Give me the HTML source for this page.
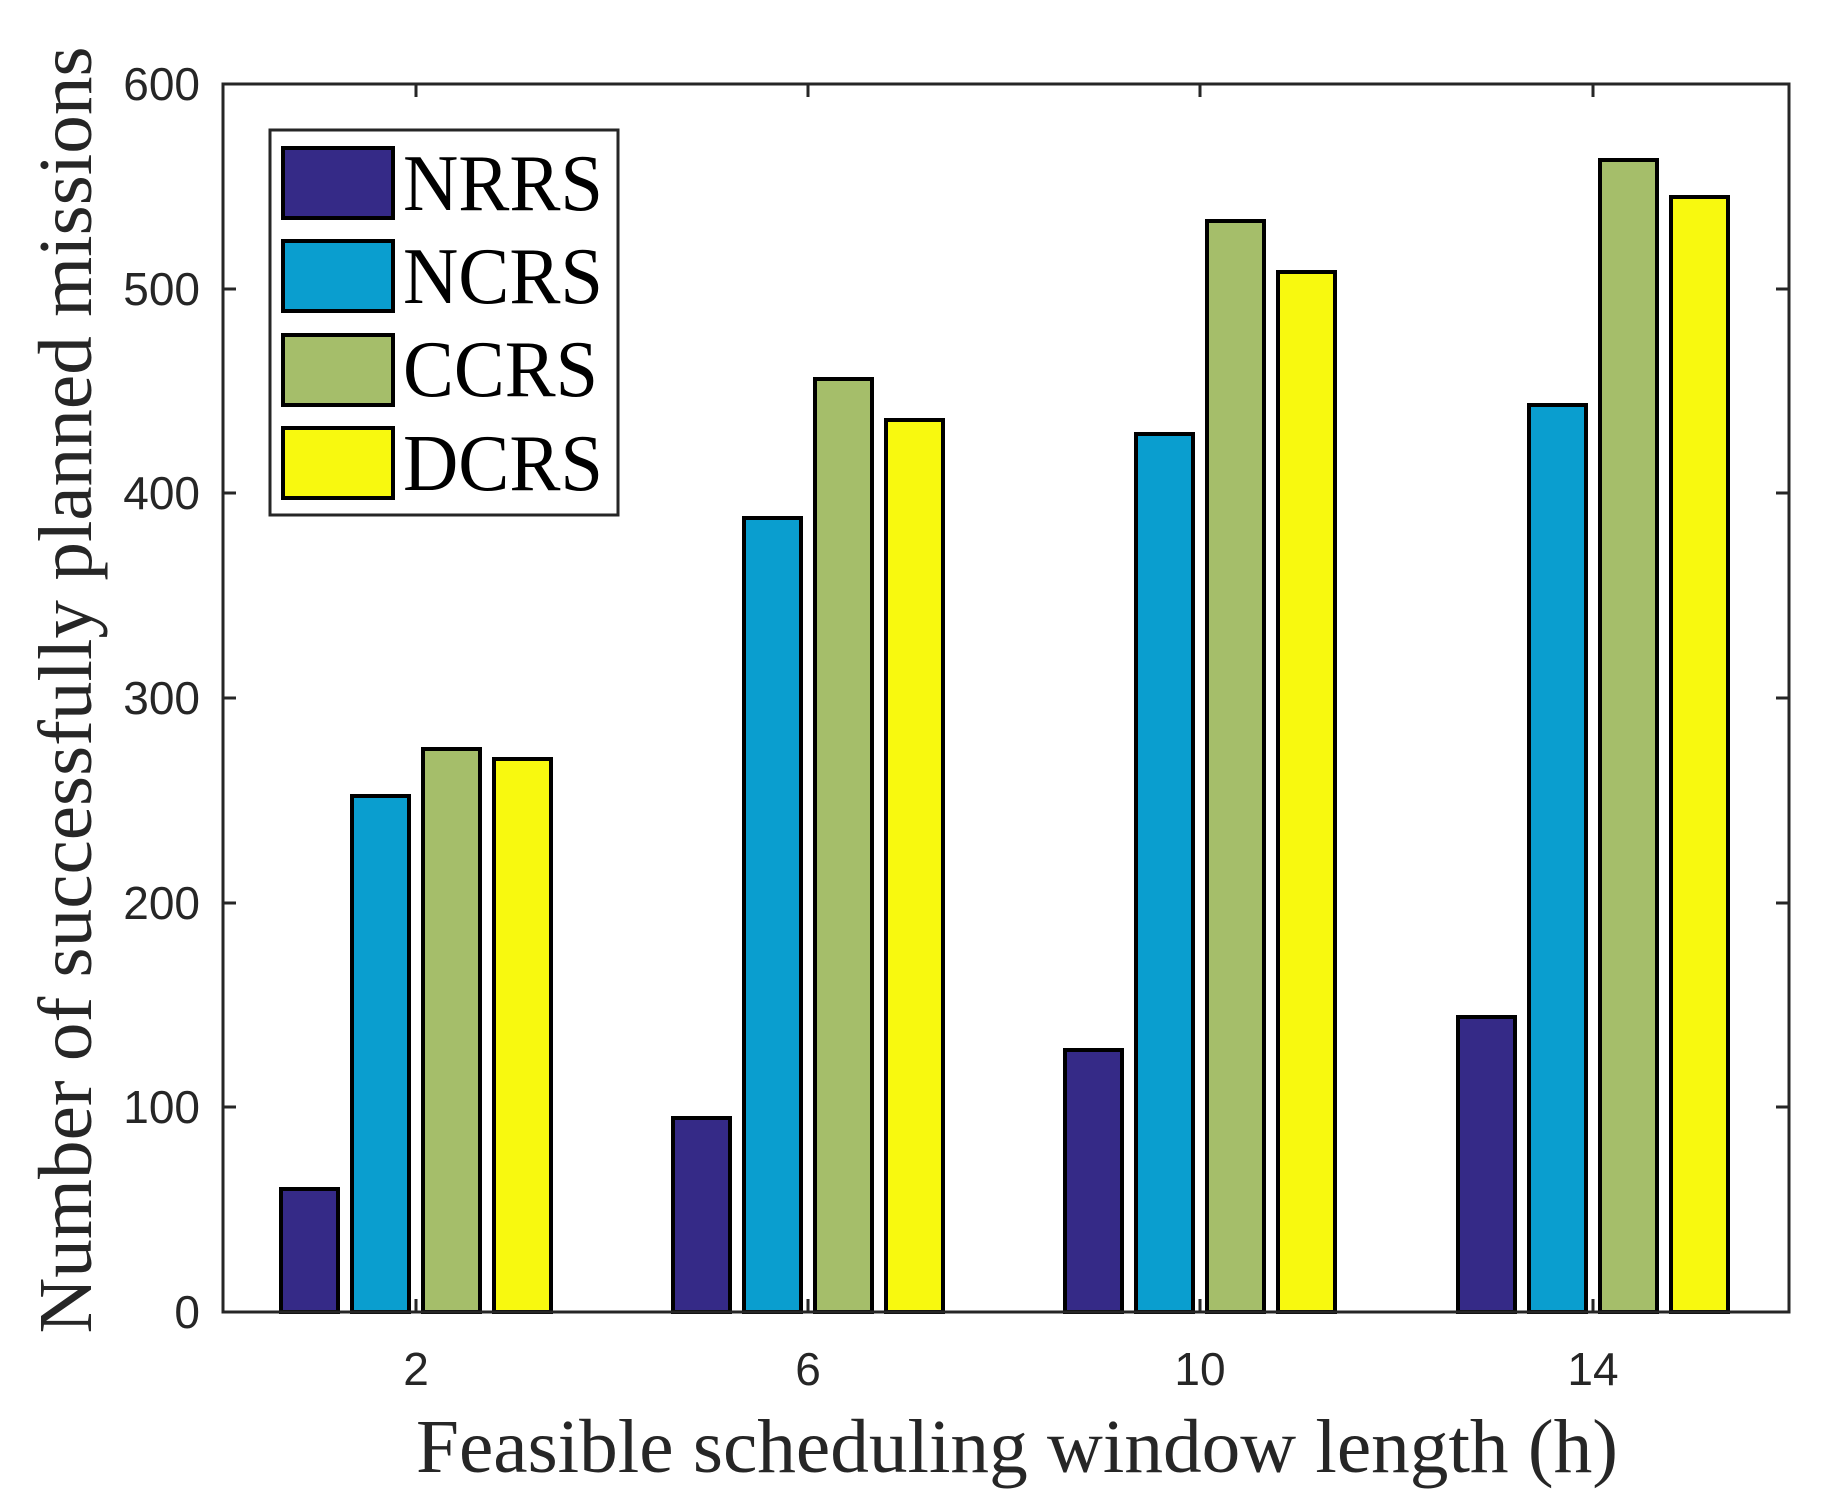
<!DOCTYPE html>
<html><head><style>body{margin:0;background:#fff}svg{display:block}</style></head><body>
<svg width="1829" height="1511" xmlns="http://www.w3.org/2000/svg">
<rect width="1829" height="1511" fill="#fff"/>
<g stroke="#000" stroke-width="4">
<rect x="281" y="1189" width="57" height="123" fill="#352a87"/>
<rect x="673" y="1118" width="57" height="194" fill="#352a87"/>
<rect x="1065" y="1050" width="57" height="262" fill="#352a87"/>
<rect x="1458" y="1017" width="57" height="295" fill="#352a87"/>
<rect x="352" y="796" width="57" height="516" fill="#0a9ecf"/>
<rect x="744" y="518" width="57" height="794" fill="#0a9ecf"/>
<rect x="1136" y="434" width="57" height="878" fill="#0a9ecf"/>
<rect x="1529" y="405" width="57" height="907" fill="#0a9ecf"/>
<rect x="423" y="749" width="57" height="563" fill="#a5be6a"/>
<rect x="815" y="379" width="57" height="933" fill="#a5be6a"/>
<rect x="1207" y="221" width="57" height="1091" fill="#a5be6a"/>
<rect x="1600" y="160" width="57" height="1152" fill="#a5be6a"/>
<rect x="494" y="759" width="57" height="553" fill="#f8f90f"/>
<rect x="886" y="420" width="57" height="892" fill="#f8f90f"/>
<rect x="1278" y="272" width="57" height="1040" fill="#f8f90f"/>
<rect x="1671" y="197" width="57" height="1115" fill="#f8f90f"/>
</g>
<g stroke="#262626" stroke-width="3" fill="none">
<rect x="223" y="84" width="1566" height="1228"/>
<path d="M223 1107h13M223 903h13M223 698h13M223 493h13M223 289h13M1789 1107h-13M1789 903h-13M1789 698h-13M1789 493h-13M1789 289h-13M416 1312v-13M808 1312v-13M1200 1312v-13M1593 1312v-13M416 84v13M808 84v13M1200 84v13M1593 84v13"/>
</g>
<g font-family="Liberation Sans, sans-serif" font-size="46" fill="#262626" text-anchor="end">
<text x="200" y="1328">0</text><text x="200" y="1123">100</text><text x="200" y="919">200</text>
<text x="200" y="714">300</text><text x="200" y="509">400</text><text x="200" y="305">500</text><text x="200" y="100">600</text>
</g>
<g font-family="Liberation Sans, sans-serif" font-size="46" fill="#262626" text-anchor="middle">
<text x="416" y="1385">2</text><text x="808" y="1385">6</text><text x="1200" y="1385">10</text><text x="1593" y="1385">14</text>
</g>
<text x="1017" y="1472" font-family="Liberation Serif, serif" font-size="76" fill="#262626" text-anchor="middle" textLength="1202" lengthAdjust="spacingAndGlyphs">Feasible scheduling window length (h)</text>
<text transform="translate(91,690) rotate(-90)" font-family="Liberation Serif, serif" font-size="76" fill="#262626" text-anchor="middle" textLength="1287" lengthAdjust="spacingAndGlyphs">Number of successfully planned missions</text>
<rect x="270" y="130" width="348" height="385" fill="#fff" stroke="#262626" stroke-width="3"/>
<g stroke="#000" stroke-width="4">
<rect x="283" y="148" width="110" height="70" fill="#352a87"/>
<rect x="283" y="241" width="110" height="70" fill="#0a9ecf"/>
<rect x="283" y="335" width="110" height="70" fill="#a5be6a"/>
<rect x="283" y="428" width="110" height="70" fill="#f8f90f"/>
</g>
<g font-family="Liberation Serif, serif" font-size="80" fill="#000">
<text x="403" y="210" textLength="200" lengthAdjust="spacingAndGlyphs">NRRS</text><text x="403" y="303" textLength="200" lengthAdjust="spacingAndGlyphs">NCRS</text><text x="403" y="396" textLength="195" lengthAdjust="spacingAndGlyphs">CCRS</text><text x="403" y="490" textLength="200" lengthAdjust="spacingAndGlyphs">DCRS</text>
</g>
</svg>
</body></html>
